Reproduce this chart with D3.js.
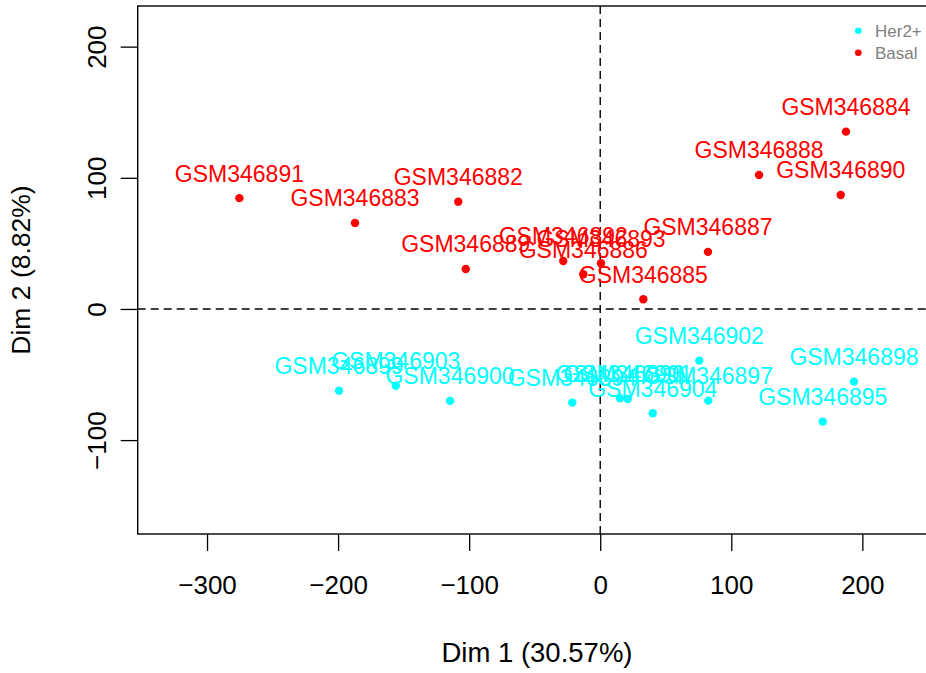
<!DOCTYPE html>
<html>
<head>
<meta charset="utf-8">
<script src="https://cdn.jsdelivr.net/npm/d3@7"></script>
<style>
  body { margin: 0; background: #fff; }
  svg text { font-family: "Liberation Sans", Arial, Helvetica, sans-serif; }
</style>
</head>
<body>
<svg id="pca" width="926" height="673"></svg>
<script>
// individuals, Dim 1 / Dim 2 coordinates
const samples = ["GSM346891", "GSM346883", "GSM346882", "GSM346889", "GSM346892", "GSM346893",
  "GSM346886", "GSM346885", "GSM346887", "GSM346884", "GSM346888", "GSM346890",
  "GSM346899", "GSM346903", "GSM346900", "GSM346894", "GSM346896", "GSM346901",
  "GSM346904", "GSM346902", "GSM346897", "GSM346898", "GSM346895"];
const dim1 = [-275.3, -187.1, -108.3, -102.6, -28.2, 0.6, -12.9, 32.9, 82.2, 187.5, 121.2, 183.5,
  -199.3, -156.0, -114.6, -21.3, 15.1, 21.0, 40.1, 75.6, 82.5, 193.6, 169.8];
const dim2 = [84.5, 65.6, 81.8, 30.5, 36.6, 34.8, 26.5, 7.4, 43.5, 135.2, 102.2, 86.9,
  -62.3, -58.5, -70.1, -71.4, -68.1, -68.6, -79.5, -39.4, -69.9, -55.4, -85.9];
const group = ["Basal", "Basal", "Basal", "Basal", "Basal", "Basal", "Basal", "Basal", "Basal", "Basal", "Basal", "Basal",
  "Her2+", "Her2+", "Her2+", "Her2+", "Her2+", "Her2+", "Her2+", "Her2+", "Her2+", "Her2+", "Her2+"];

const legendGroups = ["Her2+", "Basal"];
const groupColors = ["cyan", "red"];
const xTicks = [-300, -200, -100, 0, 100, 200];
const yTicks = [-100, 0, 100, 200];

const svg = d3.select("#pca");
const box = { left: 137.7, right: 952, top: 6, bottom: 534 };

const x = d3.scaleLinear().domain([-352.9, 268.4]).range([box.left, box.right]);
const y = d3.scaleLinear().domain([-171.6, 231]).range([box.bottom, box.top]);
const color = d3.scaleOrdinal().domain(legendGroups).range(groupColors);

const points = samples.map((s, i) => ({ name: s, d1: dim1[i], d2: dim2[i], grp: group[i] }));

// reference lines
svg.append("line")
  .attr("x1", x(0)).attr("x2", x(0)).attr("y1", box.top).attr("y2", box.bottom)
  .attr("stroke", "#000").attr("stroke-width", 1.4).attr("stroke-dasharray", "8,5");
svg.append("line")
  .attr("x1", box.left).attr("x2", box.right).attr("y1", y(0)).attr("y2", y(0))
  .attr("stroke", "#000").attr("stroke-width", 1.4).attr("stroke-dasharray", "8,5");

// box
svg.append("rect")
  .attr("x", box.left).attr("y", box.top)
  .attr("width", box.right - box.left).attr("height", box.bottom - box.top)
  .attr("fill", "none").attr("stroke", "#000").attr("stroke-width", 1.4);

// x axis
const xAxis = svg.append("g").attr("transform", `translate(0,${box.bottom})`)
  .call(d3.axisBottom(x).tickValues(xTicks).tickSize(17).tickPadding(25)
    .tickFormat(d => d < 0 ? "\u2212" + Math.abs(d) : d));
xAxis.select(".domain").remove();
xAxis.selectAll("line").attr("stroke-width", 1.3);
xAxis.selectAll("text").attr("font-size", 26).attr("fill", "#000")
  .style("font-family", "'Liberation Sans', Arial, sans-serif");

// y axis, labels turned like R does
const yAxis = svg.append("g").attr("transform", `translate(${box.left},0)`)
  .call(d3.axisLeft(y).tickValues(yTicks).tickSize(17)
    .tickFormat(d => d < 0 ? "\u2212" + Math.abs(d) : d));
yAxis.select(".domain").remove();
yAxis.selectAll("line").attr("stroke-width", 1.3);
yAxis.selectAll("text")
  .attr("font-size", 26).attr("fill", "#000")
  .attr("x", null).attr("dy", null)
  .attr("text-anchor", "middle")
  .attr("transform", "translate(-32,0) rotate(-90)")
  .style("font-family", "'Liberation Sans', Arial, sans-serif");

// points
svg.append("g").selectAll("circle")
  .data(points)
  .join("circle")
  .attr("cx", d => x(d.d1))
  .attr("cy", d => y(d.d2))
  .attr("r", 4.2)
  .attr("fill", d => color(d.grp));

// labels above points
svg.append("g").selectAll("text")
  .data(points)
  .join("text")
  .attr("x", d => x(d.d1))
  .attr("y", d => y(d.d2) - 16.5)
  .attr("text-anchor", "middle")
  .attr("font-size", 23)
  .attr("fill", d => color(d.grp))
  .text(d => d.name);

// axis titles
svg.append("text")
  .attr("x", 537).attr("y", 662)
  .attr("text-anchor", "middle").attr("font-size", 27.5)
  .text("Dim 1 (30.57%)");
svg.append("text")
  .attr("transform", `translate(30,${(box.top + box.bottom) / 2}) rotate(-90)`)
  .attr("text-anchor", "middle").attr("font-size", 26.5)
  .text("Dim 2 (8.82%)");

// legend
const legend = svg.append("g").selectAll("g")
  .data(legendGroups)
  .join("g")
  .attr("transform", (d, i) => `translate(858.3,${30.7 + i * 22})`);
legend.append("circle").attr("r", 3.3).attr("fill", d => color(d));
legend.append("text")
  .attr("x", 16.7).attr("y", 5.8)
  .attr("font-size", 17).attr("fill", "#808080")
  .text(d => d);
</script>
</body>
</html>
